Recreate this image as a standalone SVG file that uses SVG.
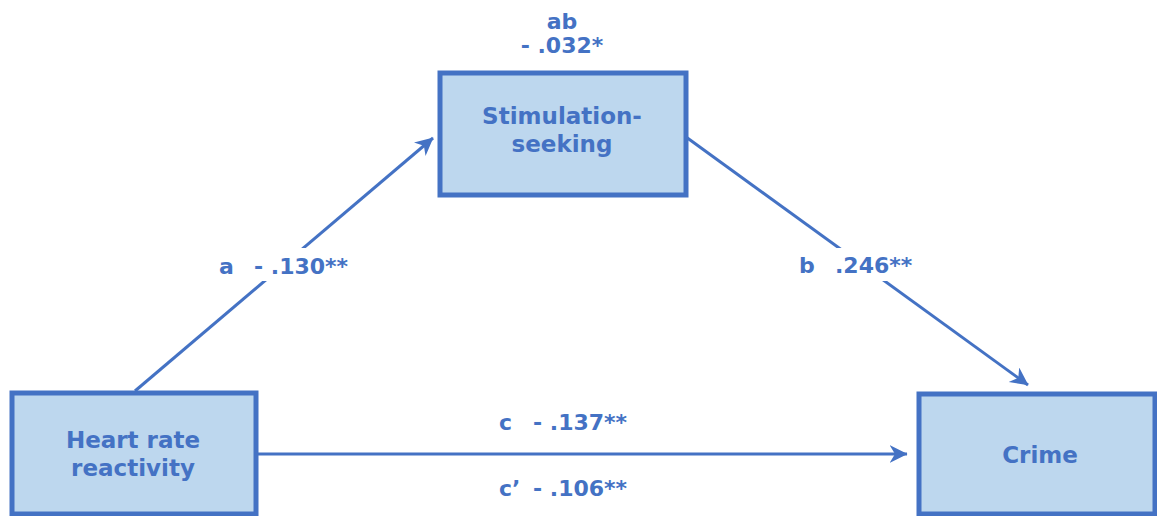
<svg xmlns="http://www.w3.org/2000/svg" width="1157" height="516" viewBox="0 0 1157 516">
<defs>
<style>
.box{fill:#BDD7EE;stroke:#4472C4;stroke-width:5}
.t{font-family:"DejaVu Sans","Verdana",sans-serif;font-weight:bold;fill:#4472C4;font-size:23px}
.n{text-anchor:middle}
.lbl{font-size:22px}
.c{stroke:#4472C4;stroke-width:3;fill:none}
</style>
<marker id="ah" markerWidth="7" markerHeight="7" refX="5.8" refY="3" orient="auto" markerUnits="strokeWidth">
<path d="M0,0 L6,3 L0,6 L1.8,3 z" fill="#4472C4"/>
</marker>
</defs>
<rect width="1157" height="516" fill="#ffffff"/>
<g id="connectors">
<line class="c" x1="135" y1="391" x2="433" y2="138" marker-end="url(#ah)"/>
<line class="c" x1="686" y1="137" x2="1028" y2="385" marker-end="url(#ah)"/>
<line class="c" x1="258" y1="454" x2="907" y2="454" marker-end="url(#ah)"/>
<rect x="212" y="248" width="145" height="33" fill="#ffffff"/>
<rect x="794" y="248" width="125" height="33" fill="#ffffff"/>
<text class="t lbl" x="219" y="274">a</text>
<text class="t lbl" x="254" y="274">- .130**</text>
<text class="t lbl" x="799" y="273">b</text>
<text class="t lbl" x="835" y="273">.246**</text>
<text class="t lbl" x="499" y="430">c</text>
<text class="t lbl" x="533" y="430">- .137**</text>
<text class="t lbl" x="499" y="496">c’</text>
<text class="t lbl" x="533" y="496">- .106**</text>
<text class="t lbl n" x="562" y="29">ab</text>
<text class="t lbl n" x="562" y="53">- .032*</text>
</g>
<g id="stim">
<rect class="box" x="440" y="73" width="246" height="122"/>
<text class="t n" x="562" y="124">Stimulation-</text>
<text class="t n" x="562" y="152">seeking</text>
</g>
<g id="heart">
<rect class="box" x="12" y="393" width="244" height="121"/>
<text class="t n" x="133" y="448">Heart rate</text>
<text class="t n" x="133" y="476">reactivity</text>
</g>
<g id="crime">
<rect class="box" x="919" y="394" width="236" height="120"/>
<text class="t n" x="1040" y="463">Crime</text>
</g>
</svg>
